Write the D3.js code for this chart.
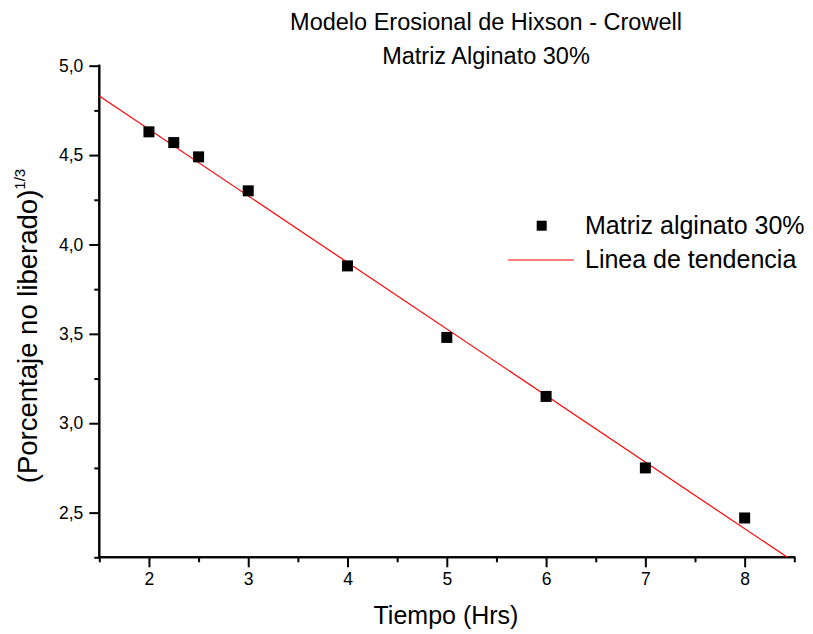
<!DOCTYPE html>
<html>
<head>
<meta charset="utf-8">
<script src="https://cdn.jsdelivr.net/npm/d3@7"></script>
<style>
  html, body { margin: 0; padding: 0; background: #fff; }
  svg { display: block; font-family: "Liberation Sans", Arial, sans-serif; }
</style>
</head>
<body>
<svg id="chart" width="813" height="634"></svg>
<script>
// Tiempo (h) and cube root of the percentage not yet released
const tiempo = [2, 2.25, 2.5, 3, 4, 5, 6, 7, 8];
const porcentaje = [4.63, 4.57, 4.49, 4.30, 3.88, 3.48, 3.15, 2.75, 2.47];

// Fitted trend line, start and end points
const tendenciaX = [1.5, 8.43];
const tendenciaY = [4.83, 2.25];

const xTicks = [2, 3, 4, 5, 6, 7, 8];
const xMinor = [1.5, 2.5, 3.5, 4.5, 5.5, 6.5, 7.5, 8.5];
const yTicks = [2.5, 3.0, 3.5, 4.0, 4.5, 5.0];
const yMinor = [2.25, 2.75, 3.25, 3.75, 4.25, 4.75];

const titulo = ["Modelo Erosional de Hixson - Crowell", "Matriz Alginato 30%"];
const leyenda = ["Matriz alginato 30%", "Linea de tendencia"];

const svg = d3.select("#chart");
const plotLeft = 99.3, plotRight = 794.3, plotTop = 65.7, plotBottom = 557.3;

const x = d3.scaleLinear().domain([1.5, 8.5]).range([plotLeft, plotRight]);
const y = d3.scaleLinear().domain([2.25, 5.0]).range([plotBottom, plotTop]);
const fmt = d => d3.format(".1f")(d).replace(".", ",");

// Axes
const xAxis = svg.append("g").attr("transform", `translate(0,${plotBottom})`)
  .call(d3.axisBottom(x).tickValues(xTicks).tickSize(10).tickPadding(5).tickFormat(d3.format("d")));
const xAxisMinor = svg.append("g").attr("transform", `translate(0,${plotBottom})`)
  .call(d3.axisBottom(x).tickValues(xMinor).tickSize(5).tickFormat(""));
const yAxis = svg.append("g").attr("transform", `translate(${plotLeft},0)`)
  .call(d3.axisLeft(y).tickValues(yTicks).tickSize(10).tickPadding(6).tickFormat(fmt));
const yAxisMinor = svg.append("g").attr("transform", `translate(${plotLeft},0)`)
  .call(d3.axisLeft(y).tickValues(yMinor).tickSize(5).tickFormat(""));

[xAxis, xAxisMinor].forEach(g => g.select(".domain").attr("d", `M${plotLeft - 1},0H${plotRight + 1}`));
[yAxis, yAxisMinor].forEach(g => g.select(".domain").attr("d", `M0,${plotBottom + 1}V${plotTop - 1}`));
[xAxis, xAxisMinor, yAxis, yAxisMinor].forEach(g => {
  g.select(".domain").attr("stroke", "#000").attr("stroke-width", 2);
  g.selectAll(".tick line").attr("stroke", "#000").attr("stroke-width", 2);
  g.selectAll(".tick text").attr("fill", "#000").attr("font-size", 17.5)
    .attr("font-family", "'Liberation Sans', Arial, sans-serif");
});

// Trend line
const linea = d3.line().x(d => x(d[0])).y(d => y(d[1]));
svg.append("path")
  .datum(tendenciaX.map((v, i) => [v, tendenciaY[i]]))
  .attr("d", linea)
  .attr("fill", "none")
  .attr("stroke", "#ff0000")
  .attr("stroke-width", 1.2);

// Data points
const s = 11;
svg.append("g").selectAll("rect")
  .data(tiempo.map((t, i) => [t, porcentaje[i]]))
  .join("rect")
  .attr("x", d => x(d[0]) - s / 2)
  .attr("y", d => y(d[1]) - s / 2)
  .attr("width", s).attr("height", s)
  .attr("fill", "#000");

// Title
svg.append("g").selectAll("text").data(titulo).join("text")
  .attr("x", 486).attr("y", (d, i) => 29.5 + i * 34)
  .attr("text-anchor", "middle").attr("font-size", 23.5).attr("fill", "#000")
  .text(d => d);

// Axis titles
svg.append("text").attr("x", 446).attr("y", 624)
  .attr("text-anchor", "middle").attr("font-size", 25).attr("fill", "#000")
  .text("Tiempo (Hrs)");

const yTitle = svg.append("text")
  .attr("transform", "translate(37,326) rotate(-90)")
  .attr("text-anchor", "middle").attr("font-size", 27.5).attr("fill", "#000");
yTitle.append("tspan").text("(Porcentaje no liberado)");
yTitle.append("tspan").attr("dy", -12).attr("font-size", 15).text("1/3");

// Legend
svg.append("rect").attr("x", 541.7 - 5).attr("y", 225.7 - 5)
  .attr("width", 10).attr("height", 10).attr("fill", "#000");
svg.append("line").attr("x1", 508).attr("x2", 574).attr("y1", 260).attr("y2", 260)
  .attr("stroke", "#ff0000").attr("stroke-width", 1.2);
svg.append("g").selectAll("text").data(leyenda).join("text")
  .attr("x", 585).attr("y", (d, i) => 233.5 + i * 34.5)
  .attr("font-size", 25).attr("fill", "#000")
  .text(d => d);
</script>
</body>
</html>
